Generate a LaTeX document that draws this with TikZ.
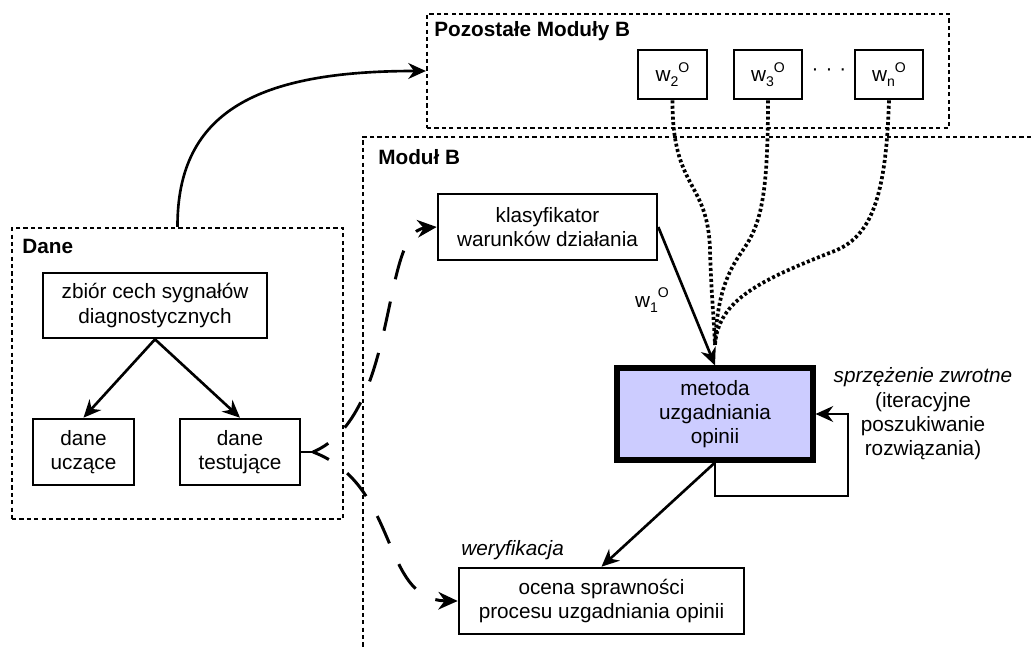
\documentclass[tikz,border=0pt]{standalone}
\usepackage{fontspec}
\setmainfont{Liberation Sans}
\usetikzlibrary{arrows.meta,calc}
\definecolor{lav}{RGB}{204,204,255}
% weight symbol: w, subscript index, superscript O
\newcommand{\wsym}[1]{w\raisebox{-0.45ex}{\footnotesize #1}\raisebox{0.85ex}{\footnotesize O}}

\begin{document}
\begin{tikzpicture}[x=0.02cm,y=-0.02cm,
  font=\fontsize{11.8}{13.8}\selectfont,
  box/.style={draw, line width=1.5pt, align=center, inner sep=0pt},
  group/.style={draw, line width=1.3pt, dash pattern=on 2.4pt off 1.8pt, inner sep=0pt},
  title/.style={font=\fontsize{11.8}{13.8}\selectfont\bfseries, anchor=base west, inner sep=0pt},
  arr/.style={line width=1.5pt, -{Stealth[length=10pt,width=9pt]}},
  dashedarr/.style={line width=1.7pt, dash pattern=on 17pt off 13pt, dash phase=7pt, -{Stealth[length=11pt,width=10pt]}},
  dotline/.style={line width=2.1pt, dash pattern=on 1.7pt off 1.4pt},
  note/.style={font=\fontsize{11.8}{13.8}\selectfont\itshape, inner sep=0pt}
]
\useasboundingbox (0,0) rectangle (1031,648);

% frame of module B (open to the right and bottom)
\draw[group] (1031,137) -| (363,648);

% group frames
\node[group, minimum width=10.44cm, minimum height=2.28cm] (others) at (688,71) {};
\node[group, minimum width=6.62cm, minimum height=5.82cm] (dane) at (177.5,373.5) {};

% titles
\node[title] (tOthers) at (434,37) {Pozostałe Moduły B};
\node[title] (tMod) at (378,165) {Moduł B};
\node[title] (tDane) at (22,254) {Dane};

% other modules' weights
\node[box, minimum width=1.38cm, minimum height=0.98cm] (w2) at (672.5,74.5) {\wsym{2}};
\node[box, minimum width=1.36cm, minimum height=0.98cm] (w3) at (768,74.5) {\wsym{3}};
\node[box, minimum width=1.36cm, minimum height=0.98cm] (wn) at (889,74.5) {\wsym{n}};
\node[inner sep=0pt] (dots) at (829,72) {·\,\,·\,\,·};

% data
\node[box, minimum width=4.48cm, minimum height=1.30cm] (zbior) at (155,305.5) {zbiór cech sygnałów\\diagnostycznych};
\node[box, minimum width=2.02cm, minimum height=1.32cm] (ucz) at (83.5,452) {dane\\uczące};
\node[box, minimum width=2.40cm, minimum height=1.32cm] (test) at (240,452) {dane\\testujące};

% module B
\node[box, minimum width=4.38cm, minimum height=1.32cm] (klas) at (547.5,227) {klasyfikator\\warunków działania};
\node[box, line width=2.9pt, fill=lav, minimum width=3.92cm, minimum height=1.84cm] (metoda) at (715,414) {metoda\\uzgadniania\\opinii};
\node[box, minimum width=5.70cm, minimum height=1.32cm] (ocena) at (601.5,601) {ocena sprawności\\procesu uzgadniania opinii};

% labels
\node[inner sep=0pt] (w1) at (652,300) {\wsym{1}};
\node[align=center, inner sep=0pt] (fbnote) at (923,414) {\textit{sprzężenie zwrotne}\\(iteracyjne\\poszukiwanie\\rozwiązania)};
\node[note, anchor=west] (wer) at (461,550) {weryfikacja};

% connectors
\draw[arr] (dane.north) .. controls (177,110) and (260,71) .. (others.west);
\draw[arr] (zbior.south) -- (ucz.north);
\draw[arr] (zbior.south) -- (test.north);
\draw[arr] (klas.east) -- (metoda.north);
\draw[arr] (metoda.south) -- (ocena.north);
\coordinate (fbk) at (848,496);
\draw[arr] (metoda.south) |- (fbk) |- (metoda.east);

% test data feeding the classifier and the evaluation
\coordinate (fork) at (313,452);
\draw[line width=1.7pt] (test.east) -- (fork);
\draw[dashedarr] (fork) .. controls (400,415) and (380,232) .. (klas.west);
\draw[dashedarr] (fork) .. controls (400,485) and (380,600) .. (ocena.west);

% weights of the other modules
\coordinate (conv) at (715,345);
\draw[dotline] (w2.south) .. controls (672,190) and (708,180) .. (710,250) .. controls (711,290) and (714,320) .. (conv);
\draw[dotline] (w3.south) .. controls (768,200) and (760,225) .. (743,250) .. controls (725,275) and (717,300) .. (conv);
\draw[dotline] (wn.south) .. controls (886,200) and (870,235) .. (837,250) .. controls (760,280) and (718,300) .. (conv);
\end{tikzpicture}
\end{document}
